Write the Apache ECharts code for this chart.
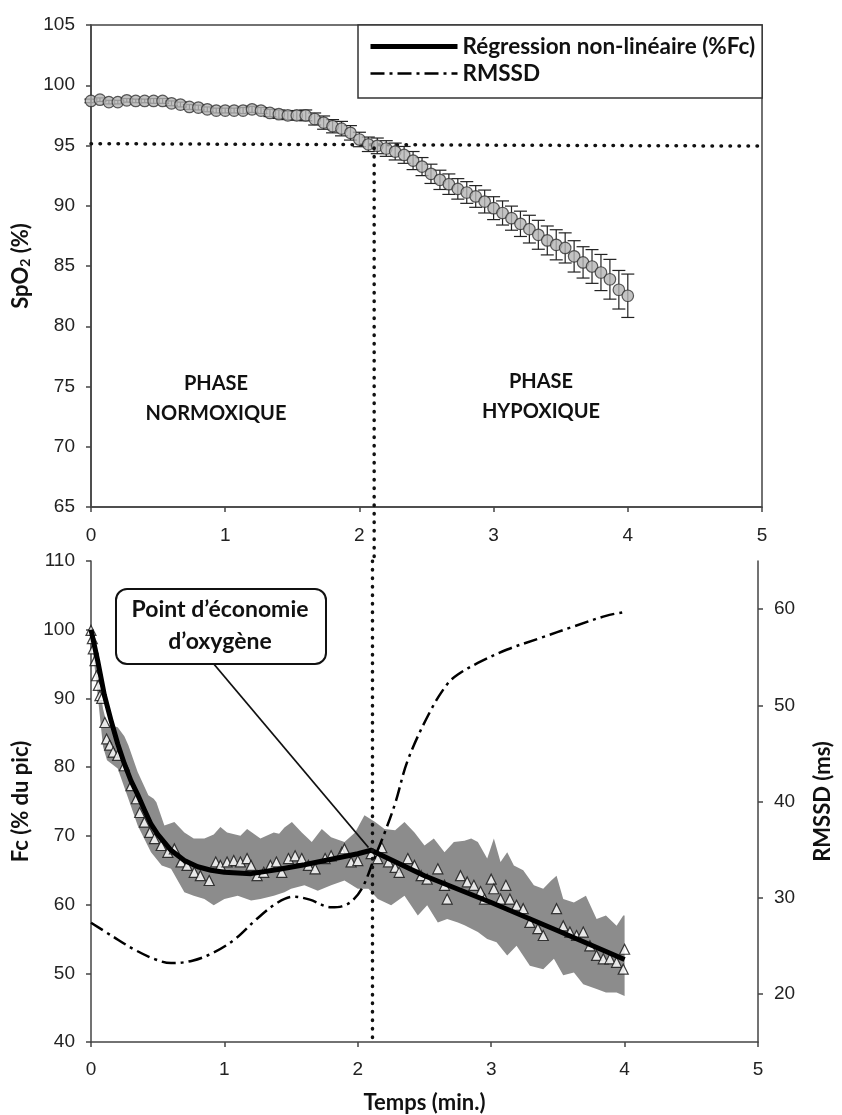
<!DOCTYPE html>
<html><head><meta charset="utf-8">
<script src="https://cdn.jsdelivr.net/npm/echarts@6/dist/echarts.min.js"></script>
<style>html,body{margin:0;padding:0;background:#fff}#c{width:842px;height:1115px}</style>
</head><body><div id="c"></div>
<script>
// ---------- Top panel: SpO2 (%) every 4 s ----------
const spo2Seconds = [0,4,8,12,16,20,24,28,32,36,40,44,48,52,56,60,64,68,72,76,80,84,88,92,96,100,104,108,112,116,120,124,128,132,136,140,144,148,152,156,160,164,168,172,176,180,184,188,192,196,200,204,208,212,216,220,224,228,232,236,240];
const spo2Mean = [98.7,98.8,98.6,98.6,98.75,98.7,98.7,98.7,98.7,98.5,
  98.4,98.2,98.15,98.0,97.9,97.9,97.9,97.9,98.0,97.9,
  97.7,97.6,97.5,97.5,97.5,97.2,96.9,96.6,96.4,96.05,
  95.5,95.1,94.97,94.75,94.5,94.22,93.75,93.25,92.65,92.15,
  91.79,91.4,91.1,90.77,90.35,89.8,89.4,88.97,88.5,88.06,
  87.59,87.12,86.76,86.5,85.8,85.3,84.96,84.46,83.9,83.03,82.53];
const spo2Err = [0.15,0.15,0.15,0.15,0.15,0.15,0.15,0.2,0.2,0.2,
  0.2,0.2,0.2,0.2,0.2,0.2,0.2,0.25,0.25,0.25,
  0.3,0.35,0.35,0.4,0.45,0.5,0.55,0.55,0.6,0.6,
  0.6,0.6,0.65,0.65,0.7,0.7,0.75,0.75,0.8,0.8,
  0.85,0.85,0.9,0.9,0.95,0.95,1.0,1.0,1.05,1.15,
  1.2,1.2,1.25,1.25,1.3,1.3,1.4,1.5,1.65,1.6,1.8];
const spo2Threshold = [[0, 95.15], [5, 94.95]];
const breakpointTime = 2.11;
const breakpointSpo2 = 94.8;

// ---------- Bottom panel: Fc (% du pic) ----------
const fcTriT = [0,0.01,0.017,0.03,0.042,0.055,0.067,0.08,0.104,0.117,0.14,0.166,0.2,0.25,0.3,0.34,0.365,0.4,0.44,0.476,
  0.526,0.576,0.625,0.675,0.72,0.774,0.82,0.886,0.935,0.97,1.02,1.07,1.12,1.17,1.2,1.245,1.295,1.345,1.39,
  1.43,1.48,1.53,1.58,1.63,1.68,1.755,1.8,1.88,1.9,1.95,2.0,2.1,2.15,2.18,2.23,2.28,2.31,2.375,2.425,2.475,
  2.52,2.6,2.65,2.67,2.77,2.82,2.87,2.92,2.95,3.0,3.02,3.07,3.11,3.14,3.19,3.24,3.29,3.35,3.39,3.49,3.54,
  3.59,3.64,3.69,3.74,3.79,3.84,3.89,3.94,3.99,4.0];
const fcTriV = [99.9,98.7,97.2,95.5,93.3,91.9,90.4,90.0,86.5,84.1,83.2,82.2,81.7,80.2,77.3,75.4,73.4,72.0,70.5,69.6,
  68.6,67.6,68.1,66.2,65.7,64.7,64.2,63.5,66.2,65.7,66.2,66.4,66.2,66.7,65.7,64.2,64.7,65.7,66.2,
  64.7,66.7,67.1,66.7,65.7,65.2,66.7,67.1,67.6,68.1,66.2,66.4,67.4,66.7,68.3,66.2,65.4,64.7,66.7,65.7,64.2,
  63.7,65.2,62.8,60.8,64.2,63.3,62.8,61.9,60.8,63.7,62.3,60.8,62.8,60.8,59.9,59.4,57.4,56.5,55.5,59.4,56.9,
  56.0,55.5,56.0,54.0,52.6,52.1,52.1,51.6,50.6,53.5];

const bandUpperT = [0,0.05,0.09,0.12,0.2,0.25,0.28,0.35,0.43,0.47,0.49,0.55,0.625,0.7,0.77,0.85,0.92,0.97,1.02,1.12,
  1.17,1.27,1.37,1.41,1.45,1.506,1.58,1.655,1.73,1.8,1.9,1.98,2.05,2.13,2.2,2.28,2.35,2.425,2.5,2.57,
  2.65,2.72,2.8,2.85,2.9,2.97,3.02,3.07,3.12,3.17,3.24,3.32,3.39,3.45,3.49,3.54,3.62,3.71,3.79,3.86,3.94,3.99,4.0];
const bandUpper = [100.6,94.0,88.5,86.2,85.8,84.5,83.2,79.3,75.9,75.4,74.9,71.5,72.0,70.5,69.6,69.6,70.2,71.3,70.5,70.0,
  71.0,69.6,70.5,70.3,71.2,72.0,70.5,69.1,71.0,69.8,69.1,70.5,73.0,72.0,71.0,70.8,72.0,70.5,68.6,69.6,
  67.6,69.1,69.3,69.6,69.1,66.7,69.6,66.2,67.6,65.7,65.0,62.8,62.3,63.5,64.2,60.8,60.3,61.3,57.9,58.4,56.9,58.4,58.4];
const bandLowerT = [0,0.05,0.09,0.12,0.2,0.28,0.35,0.45,0.53,0.6,0.7,0.77,0.85,0.92,1.0,1.1,1.2,1.27,1.37,1.45,
  1.5,1.6,1.7,1.8,1.9,2.0,2.08,2.15,2.25,2.35,2.45,2.52,2.6,2.67,2.75,2.8,2.9,2.97,3.04,3.12,
  3.19,3.29,3.39,3.47,3.54,3.62,3.69,3.79,3.86,3.94,4.0];
const bandLower = [99.4,90.5,83.0,81.0,79.8,75.4,71.5,67.6,65.7,65.2,61.8,61.3,60.8,59.9,60.8,61.3,60.6,60.8,61.3,61.8,
  62.3,62.8,62.0,62.8,63.5,62.3,62.3,60.8,59.9,61.3,58.4,59.9,57.4,57.9,57.4,57.0,56.0,55.0,54.5,52.6,
  54.0,51.1,50.6,52.1,49.7,50.1,48.4,47.7,47.2,47.2,46.7];

const regT = [0,0.05,0.1,0.15,0.2,0.25,0.3,0.35,0.4,0.45,0.5,0.6,0.7,0.8,0.9,1.0,1.2,1.4,1.6,1.8,2.0,2.1,2.5,3.0,3.5,4.0];
const regV = [100,95.5,90.5,86.8,83.4,80.5,78.0,76.0,73.8,71.7,70.2,67.9,66.4,65.5,65.0,64.7,64.5,65.1,65.8,66.6,67.4,67.9,64.2,60.3,56.2,52.0];

// ---------- RMSSD (ms), right axis ----------
const rmssdT = [0,0.16,0.32,0.48,0.6,0.76,0.92,1.08,1.24,1.4,1.52,1.64,1.8,1.88,1.96,2.04,2.12,2.2,2.28,2.375,2.54,2.67,2.75,2.9,3.12,3.37,3.62,3.86,4.0];
const rmssdV = [27.4,26.0,24.65,23.6,23.2,23.45,24.3,25.7,27.76,29.5,30.1,29.8,29.0,29.1,29.7,31.2,33.97,36.7,39.8,44.3,49.3,52.2,53.2,54.4,55.8,57.0,58.2,59.3,59.7];

// ---------- Axis tick labels ----------
const timeTicks = [0,1,2,3,4,5];
const spo2Ticks = [65,70,75,80,85,90,95,100,105];
const fcTicks = [40,50,60,70,80,90,100,110];
const rmssdTicks = [20,30,40,50,60];

// annotation anchors (data coords)
const arrowFrom = [0.908, 95.3];
const arrowTo = [2.08, 68.3];

const INK = '#111';
const tickFont = {fontFamily:'Liberation Sans', fontSize:19, color:'#222'};
const nameFont = {fontFamily:'Lato', fontWeight:'bold', fontSize:22, color:INK};
const axisLine = {show:true, onZero:false, lineStyle:{color:'#444', width:1.5}};
const axisTick = {show:true, length:5, lineStyle:{color:'#444', width:1.5}};

const chart = echarts.init(document.getElementById('c'), null, {renderer:'canvas'});

const option = {
  animation:false,
  backgroundColor:'#fff',
  grid:[
    {left:91, top:25, width:671, height:482, show:true, borderColor:'#444', borderWidth:1.5, backgroundColor:'transparent'},
    {left:91, top:561, width:671, height:482}
  ],
  xAxis:[
    {gridIndex:0, type:'value', min:timeTicks[0], max:timeTicks[timeTicks.length-1], interval:1,
      axisLine, axisTick, splitLine:{show:false}, axisLabel:{...tickFont, margin:19}},
    {gridIndex:1, type:'value', min:timeTicks[0], max:timeTicks[timeTicks.length-1], interval:1,
      axisLine, axisTick, splitLine:{show:false}, axisLabel:{...tickFont, margin:18},
      name:'Temps (min.)', nameLocation:'middle', nameGap:50, nameTextStyle:{...nameFont}}
  ],
  yAxis:[
    {gridIndex:0, type:'value', min:spo2Ticks[0], max:spo2Ticks[spo2Ticks.length-1], interval:5,
      axisLine, axisTick, splitLine:{show:false}, axisLabel:{...tickFont, margin:16},
      name:'SpO{sub|2} (%)', nameLocation:'middle', nameRotate:90, nameGap:51,
      nameTextStyle:{...nameFont, rich:{sub:{fontFamily:'Lato', fontWeight:'bold', fontSize:14, color:INK, lineHeight:10, verticalAlign:'bottom'}}}},
    {gridIndex:1, type:'value', min:fcTicks[0], max:fcTicks[fcTicks.length-1], interval:10,
      axisLine, axisTick, splitLine:{show:false}, axisLabel:{...tickFont, margin:16},
      name:'Fc (% du pic)', nameLocation:'middle', nameRotate:90, nameGap:52, nameTextStyle:{...nameFont}},
    {gridIndex:1, type:'value', position:'right', min:15, max:65,
      axisLine, axisTick:{...axisTick, customValues:rmssdTicks}, splitLine:{show:false},
      axisLabel:{...tickFont, margin:16, customValues:rmssdTicks},
      name:'RMSSD (ms)', nameLocation:'middle', nameRotate:90, nameGap:54, nameTextStyle:{...nameFont}}
  ],
  legend:{
    left:358, top:25, orient:'vertical', padding:[10,7,13,10], itemGap:4, itemWidth:87, itemHeight:14,
    borderColor:'#333', borderWidth:1.5, backgroundColor:'#fff', selectedMode:false,
    textStyle:{fontFamily:'Lato', fontWeight:'bold', fontSize:22.5, color:INK},
    data:[
      {name:'Régression non-linéaire (%Fc)', lineStyle:{width:5}, itemStyle:{opacity:0}},
      {name:'RMSSD', lineStyle:{width:2.5}, itemStyle:{opacity:0}}
    ]
  },
  graphic:[
    {type:'rect', left:115, top:588, z:100, shape:{width:210, height:75, r:11},
      style:{fill:'#fff', stroke:INK, lineWidth:2}},
    {type:'text', x:220, y:626, z:101,
      style:{text:'Point d’économie\nd’oxygène', font:'bold 23px Lato', fill:INK, align:'center', verticalAlign:'middle', lineHeight:32}},
    {type:'text', x:216, y:399, z:101,
      style:{text:'PHASE\nNORMOXIQUE', font:'bold 20px Lato', fill:INK, align:'center', verticalAlign:'middle', lineHeight:30}},
    {type:'text', x:541, y:397, z:101,
      style:{text:'PHASE\nHYPOXIQUE', font:'bold 20px Lato', fill:INK, align:'center', verticalAlign:'middle', lineHeight:30}}
  ],
  series:[
    // ---- top panel ----
    {type:'line', name:'seuil95', xAxisIndex:0, yAxisIndex:0, data:spo2Threshold, symbol:'none', z:1,
      lineStyle:{color:INK, width:3.5, type:[0.5,8.5], cap:'round'}, silent:true},
    {type:'custom', name:'spo2err', xAxisIndex:0, yAxisIndex:0, z:2,
      data: spo2Seconds.map((s,i)=>[s/60, spo2Mean[i], spo2Err[i]]),
      encode:{x:0, y:1},
      renderItem:function(params, api){
        const x = api.value(0), m = api.value(1), e = api.value(2);
        const a = api.coord([x, m+e]), b = api.coord([x, m-e]);
        const hw = 6.5, st = {stroke:'#222', lineWidth:1.2};
        return {type:'group', children:[
          {type:'line', shape:{x1:a[0],y1:a[1],x2:b[0],y2:b[1]}, style:st},
          {type:'line', shape:{x1:a[0]-hw,y1:a[1],x2:a[0]+hw,y2:a[1]}, style:st},
          {type:'line', shape:{x1:b[0]-hw,y1:b[1],x2:b[0]+hw,y2:b[1]}, style:st}
        ]};
      }},
    {type:'scatter', name:'SpO2', xAxisIndex:0, yAxisIndex:0, z:3,
      data: spo2Seconds.map((s,i)=>[s/60, spo2Mean[i]]),
      symbol:'circle', symbolSize:11.5,
      itemStyle:{color:'#b4b4b4', borderColor:'#333', borderWidth:1.2}},
    {type:'line', name:'vertTop', xAxisIndex:0, yAxisIndex:0, clip:false, symbol:'none', z:5, silent:true,
      data:[[breakpointTime, breakpointSpo2],[breakpointTime, 60.5]],
      lineStyle:{color:INK, width:3.5, type:[0.5,8], cap:'round'}},
    // ---- bottom panel ----
    {type:'custom', name:'bande', xAxisIndex:1, yAxisIndex:1, z:1, silent:true,
      data:[[2, 70]], encode:{x:0, y:1},
      renderItem:function(params, api){
        const pts = [];
        for (let i=0;i<bandUpperT.length;i++) pts.push(api.coord([bandUpperT[i], bandUpper[i]]));
        for (let i=bandLowerT.length-1;i>=0;i--) pts.push(api.coord([bandLowerT[i], bandLower[i]]));
        return {type:'polygon', shape:{points:pts}, style:{fill:'#8c8c8c'}};
      }},
    {type:'scatter', name:'Fc', xAxisIndex:1, yAxisIndex:1, z:2,
      data: fcTriT.map((t,i)=>[t, fcTriV[i]]),
      symbol:'triangle', symbolSize:10,
      itemStyle:{color:'#fff', borderColor:INK, borderWidth:1.2}},
    {type:'line', name:'Régression non-linéaire (%Fc)', xAxisIndex:1, yAxisIndex:1, z:3,
      data: regT.map((t,i)=>[t, regV[i]]), symbol:'none',
      itemStyle:{color:'#000'},
      lineStyle:{color:'#000', width:5, join:'round'},
      markLine:{silent:true, symbol:['none','arrow'], symbolSize:[1,13], animation:false,
        label:{show:false}, lineStyle:{color:INK, width:1.8, type:'solid'},
        emphasis:{disabled:true},
        data:[[{coord:arrowFrom},{coord:arrowTo}]]}},
    {type:'line', name:'RMSSD', xAxisIndex:1, yAxisIndex:2, z:4,
      data: rmssdT.map((t,i)=>[t, rmssdV[i]]), symbol:'none', smooth:0.35,
      itemStyle:{color:'#000'},
      lineStyle:{color:'#000', width:2.5, type:[14,5,3,5]}},
    {type:'line', name:'vertBottom', xAxisIndex:1, yAxisIndex:1, symbol:'none', z:5, silent:true,
      data:[[breakpointTime, 110],[breakpointTime, 40]],
      lineStyle:{color:INK, width:3.5, type:[0.5,8], cap:'round'}}
  ]
};
chart.setOption(option);
</script>
</body></html>
